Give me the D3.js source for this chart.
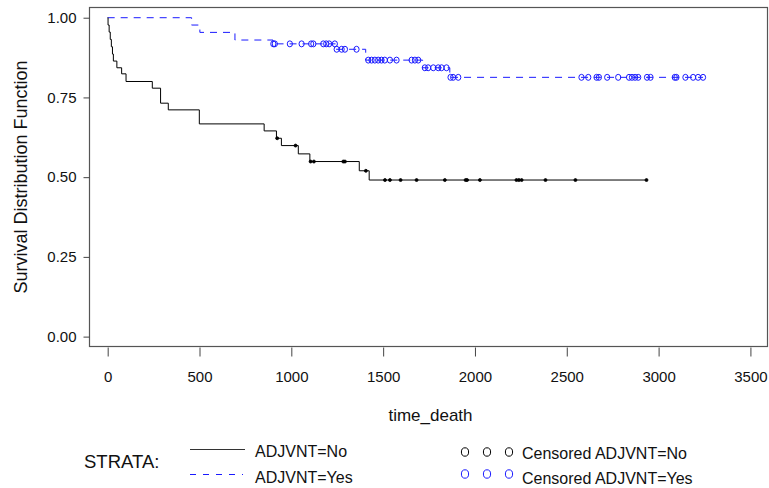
<!DOCTYPE html>
<html>
<head>
<meta charset="utf-8">
<script src="https://cdn.jsdelivr.net/npm/d3@7"></script>
<style>
  body { margin: 0; background: #fff; }
  svg { font-family: "Liberation Sans", Arial, sans-serif; }
</style>
</head>
<body>
<div id="chart"></div>
<script>
// ============================================
// DATA
// ============================================

// ADJVNT=No : step times and survival after each step
const noTimes = [0, 2, 8, 14, 20, 26, 31, 50, 76, 100, 243, 288, 330, 499, 852, 919, 946, 1038, 1101, 1370, 1424];
const noSurv = [1.0, 0.977, 0.955, 0.932, 0.909, 0.886, 0.864, 0.843, 0.824, 0.80, 0.779, 0.732, 0.711, 0.667, 0.645, 0.622, 0.599, 0.573, 0.549, 0.520, 0.491];
const noCensored = [923, 1023, 1105, 1123, 1283, 1292, 1406, 1510, 1537, 1595, 1682, 1836, 1949, 1957, 2027, 2226, 2239, 2254, 2384, 2547, 2934];

// ADJVNT=Yes
const yesTimes = [0, 457, 502, 693, 900, 1241, 1405, 1715, 1863];
const yesSurv = [1.0, 0.977, 0.954, 0.930, 0.918, 0.901, 0.867, 0.843, 0.813];
const yesCensored = [902, 910, 992, 1056, 1108, 1120, 1174, 1190, 1206, 1237, 1247, 1274, 1292, 1355,
  1419, 1437, 1455, 1473, 1491, 1509, 1537, 1573, 1655, 1673, 1691, 1727, 1745, 1773, 1800, 1818, 1845,
  1867, 1881, 1909, 2580, 2617, 2662, 2675, 2720, 2780, 2839, 2855, 2872, 2889, 2937, 2956,
  3088, 3097, 3146, 3188, 3215, 3242];

const xTicks = [0, 500, 1000, 1500, 2000, 2500, 3000, 3500];
const yTicks = [0, 0.25, 0.5, 0.75, 1.0];

// ============================================
// LAYOUT
// ============================================

const width = 769;
const height = 488;
const frame = { left: 89.5, right: 767.5, top: 7.5, bottom: 346.5 };
const BLUE = "#1a1aff";

const svg = d3.select("#chart").append("svg")
  .attr("width", width)
  .attr("height", height);

const x = d3.scaleLinear().domain([-99, 3593]).range([frame.left, frame.right]);
const y = d3.scaleLinear().domain([-0.031, 1.032]).range([frame.bottom, frame.top]);

// survival value at time t (right-continuous step)
function survAt(times, surv, t) {
  let i = d3.bisectRight(times, t) - 1;
  return surv[Math.max(i, 0)];
}

// ============================================
// FRAME & AXES
// ============================================

svg.append("rect")
  .attr("x", frame.left).attr("y", frame.top)
  .attr("width", frame.right - frame.left)
  .attr("height", frame.bottom - frame.top)
  .attr("fill", "none")
  .attr("stroke", "#555")
  .attr("stroke-width", 1.2);

const xAxis = d3.axisBottom(x).tickValues(xTicks).tickSize(9).tickSizeOuter(0).tickPadding(15)
  .tickFormat(d3.format("d"));
const gx = svg.append("g")
  .attr("transform", `translate(0,${frame.bottom + 1})`)
  .call(xAxis);
gx.select(".domain").remove();
gx.selectAll("line").attr("stroke", "#444");
gx.selectAll("text").attr("font-size", 15).attr("fill", "#111").attr("font-family", null);

const yAxis = d3.axisLeft(y).tickValues(yTicks).tickSize(6).tickSizeOuter(0).tickPadding(7)
  .tickFormat(d3.format(".2f"));
const gy = svg.append("g")
  .attr("transform", `translate(${frame.left},0)`)
  .call(yAxis);
gy.select(".domain").remove();
gy.selectAll("line").attr("stroke", "#444");
gy.selectAll("text").attr("font-size", 15).attr("fill", "#111").attr("font-family", null);

svg.append("text")
  .attr("x", (frame.left + frame.right) / 2 + 2)
  .attr("y", 421)
  .attr("text-anchor", "middle")
  .attr("font-size", 17)
  .attr("fill", "#111")
  .text("time_death");

svg.append("text")
  .attr("transform", `translate(27,${(frame.top + frame.bottom) / 2}) rotate(-90)`)
  .attr("text-anchor", "middle")
  .attr("font-size", 18)
  .attr("fill", "#111")
  .text("Survival Distribution Function");

// ============================================
// CURVES
// ============================================

const stepLine = d3.line()
  .x((d) => x(d[0]))
  .y((d) => y(d[1]))
  .curve(d3.curveStepAfter);

function curvePoints(times, surv, censored) {
  const pts = times.map((t, i) => [t, surv[i]]);
  const last = d3.max(censored);
  pts.push([last, surv[surv.length - 1]]);
  return pts;
}

svg.append("path")
  .attr("d", stepLine(curvePoints(yesTimes, yesSurv, yesCensored)))
  .attr("fill", "none")
  .attr("stroke", BLUE)
  .attr("stroke-width", 1)
  .attr("stroke-dasharray", "7,6");

svg.append("path")
  .attr("d", stepLine(curvePoints(noTimes, noSurv, noCensored)))
  .attr("fill", "none")
  .attr("stroke", "#000")
  .attr("stroke-width", 1);

svg.append("g").selectAll("ellipse")
  .data(yesCensored)
  .join("ellipse")
  .attr("cx", (d) => x(d))
  .attr("cy", (d) => y(survAt(yesTimes, yesSurv, d)))
  .attr("rx", 2.6)
  .attr("ry", 3)
  .attr("fill", "none")
  .attr("stroke", BLUE)
  .attr("stroke-width", 1);

svg.append("g").selectAll("circle")
  .data(noCensored)
  .join("circle")
  .attr("cx", (d) => x(d))
  .attr("cy", (d) => y(survAt(noTimes, noSurv, d)))
  .attr("r", 1.5)
  .attr("fill", "#000")
  .attr("stroke", "#000")
  .attr("stroke-width", 0.8);

// ============================================
// LEGEND
// ============================================

const legend = svg.append("g").attr("font-size", 16).attr("fill", "#111");

legend.append("text").attr("x", 84).attr("y", 468).attr("font-size", 18.5).text("STRATA:");

legend.append("line")
  .attr("x1", 190).attr("x2", 245).attr("y1", 449.5).attr("y2", 449.5)
  .attr("stroke", "#333").attr("stroke-width", 1);
legend.append("line")
  .attr("x1", 190).attr("x2", 243).attr("y1", 474.5).attr("y2", 474.5)
  .attr("stroke", BLUE).attr("stroke-width", 1).attr("stroke-dasharray", "6,7");

legend.append("text").attr("x", 255).attr("y", 457).text("ADJVNT=No");
legend.append("text").attr("x", 255).attr("y", 483).text("ADJVNT=Yes");

[465, 487, 509].forEach((cx) => {
  legend.append("ellipse").attr("cx", cx).attr("cy", 452).attr("rx", 3.6).attr("ry", 4.2)
    .attr("fill", "none").attr("stroke", "#000");
  legend.append("ellipse").attr("cx", cx).attr("cy", 474).attr("rx", 3.6).attr("ry", 4.2)
    .attr("fill", "none").attr("stroke", BLUE);
});

legend.append("text").attr("x", 522).attr("y", 459).text("Censored ADJVNT=No");
legend.append("text").attr("x", 522).attr("y", 484).text("Censored ADJVNT=Yes");
</script>
</body>
</html>
